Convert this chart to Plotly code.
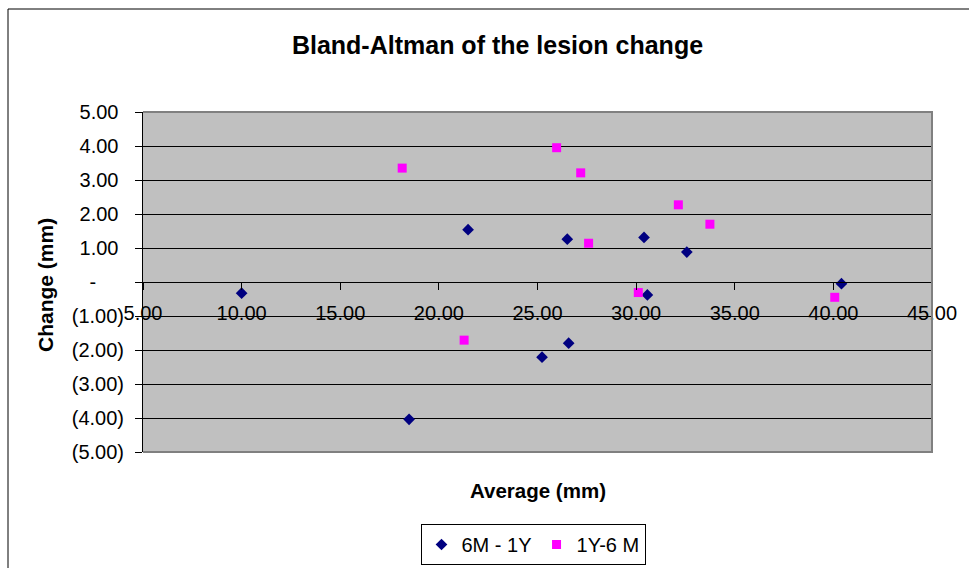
import plotly.graph_objects as go

# ---- data ----
avg_6m_1y = [10.00, 21.48, 18.49, 25.23, 26.51, 26.58, 30.40, 30.57, 32.57, 40.41]
chg_6m_1y = [-0.33, 1.54, -4.04, -2.21, 1.26, -1.80, 1.31, -0.38, 0.88, -0.05]

avg_1y_6m = [18.14, 21.28, 25.97, 27.19, 27.59, 30.11, 32.14, 33.74, 40.07]
chg_1y_6m = [3.35, -1.71, 3.95, 3.21, 1.14, -0.31, 2.27, 1.70, -0.45]

x_ticks = [5, 10, 15, 20, 25, 30, 35, 40, 45]
x_ticktext = ["5.00", "10.00", "15.00", "20.00", "25.00", "30.00", "35.00", "40.00", "45.00"]
y_ticks = [5, 4, 3, 2, 1, 0, -1, -2, -3, -4, -5]
y_ticktext = ["5.00", "4.00", "3.00", "2.00", "1.00", "-", "(1.00)", "(2.00)", "(3.00)", "(4.00)", "(5.00)"]

title_text = "Bland-Altman of the lesion change"
x_title = "Average (mm)"
y_title = "Change (mm)"
series_names = ["6M - 1Y", "1Y-6 M"]

FONT = "Liberation Sans, Arial, sans-serif"
NB = "\u00a0"


def pad_label(t):
    if t.startswith("("):
        return t
    if t == "-":
        return t + NB * 5
    return t + NB


fig = go.Figure()
fig.add_trace(go.Scatter(
    x=avg_6m_1y, y=chg_6m_1y, mode="markers", name=series_names[0],
    marker=dict(symbol="diamond", size=9, color="#000080", line=dict(width=0)),
))
fig.add_trace(go.Scatter(
    x=avg_1y_6m, y=chg_1y_6m, mode="markers", name=series_names[1],
    marker=dict(symbol="square", size=9, color="#FF00FF", line=dict(width=0)),
))

W, H = 969, 568
L, R, T, B = 143, 37, 112, 116
pw, ph = W - L - R, H - T - B

fig.update_layout(
    width=W, height=H,
    margin=dict(l=L, r=R, t=T, b=B, pad=0, autoexpand=False),
    paper_bgcolor="white",
    plot_bgcolor="#C0C0C0",
    font=dict(family=FONT, size=20, color="black"),
    title=dict(text="<b>" + title_text + "</b>", font=dict(size=25, family=FONT, color="black"),
               x=497.5 / W, xref="container", xanchor="center",
               y=1 - 45 / H, yref="container", yanchor="middle"),
    showlegend=True,
    legend=dict(orientation="h", x=533 / W, xref="container", xanchor="center",
                y=1 - 524 / H, yref="container", yanchor="top",
                bgcolor="white", bordercolor="black", borderwidth=1,
                font=dict(size=20, family=FONT), itemwidth=30),
    xaxis=dict(range=[5, 45], tickvals=x_ticks, ticktext=x_ticktext,
               anchor="free", position=0.5, showgrid=False, zeroline=False,
               showline=True, linecolor="black", linewidth=1,
               ticks="outside", ticklen=7, tickcolor="black", tickwidth=1,
               ticklabelstandoff=6, tickfont=dict(size=20, family=FONT)),
    yaxis=dict(range=[-5, 5], tickvals=y_ticks, ticktext=[pad_label(t) for t in y_ticktext],
               showgrid=True, gridcolor="black", gridwidth=1, zeroline=False,
               showline=True, linecolor="black", linewidth=1,
               ticks="outside", ticklen=7, tickcolor="black", tickwidth=1,
               ticklabelstandoff=7, tickfont=dict(size=20, family=FONT)),
    annotations=[
        dict(text="<b>" + x_title + "</b>", xref="paper", yref="paper",
             x=0.5, y=-(490 - (T + ph)) / ph, xanchor="center", yanchor="middle",
             showarrow=False, font=dict(size=20.5, family=FONT)),
        dict(text="<b>" + y_title + "</b>", xref="paper", yref="paper",
             x=(45 - L) / pw, y=(T + ph - 285) / ph, xanchor="center", yanchor="middle",
             textangle=-90, showarrow=False, font=dict(size=21, family=FONT)),
    ],
    shapes=[
        dict(type="path", xref="paper", yref="paper", path="M 0,1 L 1,1 L 1,0 L 0,0",
             line=dict(color="#808080", width=2), layer="above"),
        dict(type="rect", xref="paper", yref="paper",
             x0=(8 - L) / pw, x1=3, y0=(T + ph - 9) / ph, y1=-3,
             line=dict(color="black", width=1), fillcolor="rgba(0,0,0,0)", layer="below"),
    ],
)

fig.write_html("out.html")
